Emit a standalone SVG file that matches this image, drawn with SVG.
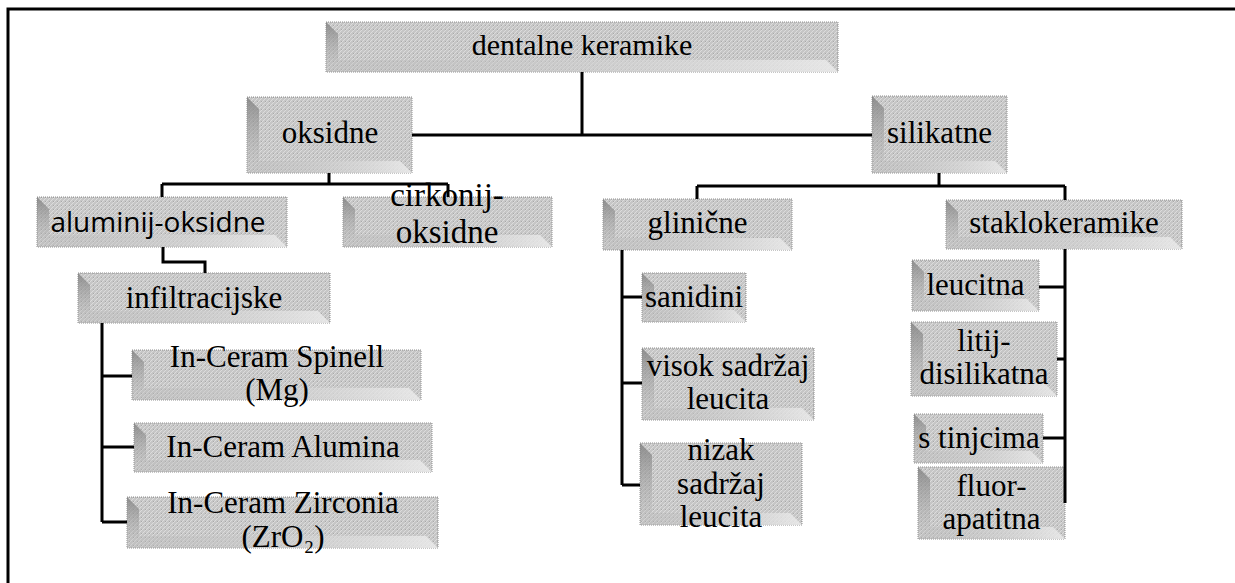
<svg xmlns="http://www.w3.org/2000/svg" width="1235" height="583" viewBox="0 0 1235 583">
<defs>
<pattern id="tex" patternUnits="userSpaceOnUse" width="4" height="4">
<rect width="4" height="4" fill="#c6c6c6"/>
<path d="M0,4 L4,0 M-1,1 L1,-1 M3,5 L5,3" stroke="#dcdcdc" stroke-width="1"/>
<rect x="1" y="1" width="1" height="1" fill="#a9a9a9"/>
</pattern>
<linearGradient id="gl" x1="0" y1="0" x2="0" y2="1">
<stop offset="0" stop-color="#7e7e7e" stop-opacity="0.8"/>
<stop offset="1" stop-color="#b8b8b8" stop-opacity="0.15"/>
</linearGradient>
<linearGradient id="gb" x1="0" y1="0" x2="1" y2="0">
<stop offset="0" stop-color="#b4b4b4" stop-opacity="0.3"/>
<stop offset="1" stop-color="#ececec" stop-opacity="0.85"/>
</linearGradient>
</defs>
<style>
.box{fill:url(#tex);stroke:#8e8e8e;stroke-width:1;stroke-dasharray:1 1}
.bl{fill:url(#gl)}
.bb{fill:url(#gb)}
text{font-family:"Liberation Serif","Times New Roman",serif;font-size:31px;fill:#000;text-anchor:middle}
.sans{font-family:"Open Sans","Liberation Sans",sans-serif;font-size:28px}
.big{font-size:33px}
.conn{fill:none;stroke:#000;stroke-width:3}
.frame{fill:none;stroke:#000;stroke-width:3}
</style>
<rect width="1235" height="583" fill="#fff"/>
<path class="frame" d="M8,583 L8,9 L1235,9"/>

<g id="n-dentalne">
<rect class="box" x="326" y="22" width="512" height="50"/>
<path class="bl" d="M326,22 L338,34 L338,60 L326,72Z"/><path class="bb" d="M326,72 L338,60 L826,60 L838,72Z"/>
<text x="582" y="55" style="font-size:30px">dentalne keramike</text>
</g>
<g id="n-oksidne">
<rect class="box" x="247" y="97" width="165" height="76"/>
<path class="bl" d="M247,97 L259,109 L259,161 L247,173Z"/><path class="bb" d="M247,173 L259,161 L400,161 L412,173Z"/>
<text x="330" y="143">oksidne</text>
</g>
<g id="n-silikatne">
<rect class="box" x="872" y="96" width="135" height="77"/>
<path class="bl" d="M872,96 L884,108 L884,161 L872,173Z"/><path class="bb" d="M872,173 L884,161 L995,161 L1007,173Z"/>
<text x="939.5" y="143">silikatne</text>
</g>
<g id="n-aluminij">
<rect class="box" x="37" y="197" width="250" height="50"/>
<path class="bl" d="M37,197 L49,209 L49,235 L37,247Z"/><path class="bb" d="M37,247 L49,235 L275,235 L287,247Z"/>
<text class="sans" x="158" y="232">aluminij-oksidne</text>
</g>
<g id="n-cirkonij">
<rect class="box" x="343" y="197" width="209" height="50"/>
<path class="bl" d="M343,197 L355,209 L355,235 L343,247Z"/><path class="bb" d="M343,247 L355,235 L540,235 L552,247Z"/>
<text class="big" x="447" y="206">cirkonij-</text>
<text class="big" x="447" y="243">oksidne</text>
</g>
<g id="n-infiltracijske">
<rect class="box" x="78" y="273" width="252" height="50"/>
<path class="bl" d="M78,273 L90,285 L90,311 L78,323Z"/><path class="bb" d="M78,323 L90,311 L318,311 L330,323Z"/>
<text x="204" y="308">infiltracijske</text>
</g>
<g id="n-spinell">
<rect class="box" x="132" y="350" width="289" height="50"/>
<path class="bl" d="M132,350 L144,362 L144,388 L132,400Z"/><path class="bb" d="M132,400 L144,388 L409,388 L421,400Z"/>
<text x="277" y="367">In-Ceram Spinell</text>
<text x="277" y="400">(Mg)</text>
</g>
<g id="n-alumina">
<rect class="box" x="134" y="423" width="298" height="49"/>
<path class="bl" d="M134,423 L146,435 L146,460 L134,472Z"/><path class="bb" d="M134,472 L146,460 L420,460 L432,472Z"/>
<text x="283" y="457">In-Ceram Alumina</text>
</g>
<g id="n-zirconia">
<rect class="box" x="127" y="497" width="311" height="51"/>
<path class="bl" d="M127,497 L139,509 L139,536 L127,548Z"/><path class="bb" d="M127,548 L139,536 L426,536 L438,548Z"/>
<text x="283" y="513">In-Ceram Zirconia</text>
<text x="283" y="547">(ZrO₂)</text>
</g>
<g id="n-glinicne">
<rect class="box" x="603" y="199" width="189" height="51"/>
<path class="bl" d="M603,199 L615,211 L615,238 L603,250Z"/><path class="bb" d="M603,250 L615,238 L780,238 L792,250Z"/>
<text x="697.5" y="233">glinične</text>
</g>
<g id="n-sanidini">
<rect class="box" x="642" y="273" width="104" height="49"/>
<path class="bl" d="M642,273 L654,285 L654,310 L642,322Z"/><path class="bb" d="M642,322 L654,310 L734,310 L746,322Z"/>
<text x="694" y="307">sanidini</text>
</g>
<g id="n-visok">
<rect class="box" x="642" y="348" width="172" height="72"/>
<path class="bl" d="M642,348 L654,360 L654,408 L642,420Z"/><path class="bb" d="M642,420 L654,408 L802,408 L814,420Z"/>
<text x="728" y="376">visok sadržaj</text>
<text x="728" y="409">leucita</text>
</g>
<g id="n-nizak">
<rect class="box" x="640" y="443" width="162" height="82"/>
<path class="bl" d="M640,443 L652,455 L652,513 L640,525Z"/><path class="bb" d="M640,525 L652,513 L790,513 L802,525Z"/>
<text x="721" y="460">nizak</text>
<text x="721" y="494">sadržaj</text>
<text x="721" y="527">leucita</text>
</g>
<g id="n-staklokeramike">
<rect class="box" x="946" y="200" width="236" height="49"/>
<path class="bl" d="M946,200 L958,212 L958,237 L946,249Z"/><path class="bb" d="M946,249 L958,237 L1170,237 L1182,249Z"/>
<text x="1064" y="233">staklokeramike</text>
</g>
<g id="n-leucitna">
<rect class="box" x="912" y="260" width="127" height="51"/>
<path class="bl" d="M912,260 L924,272 L924,299 L912,311Z"/><path class="bb" d="M912,311 L924,299 L1027,299 L1039,311Z"/>
<text x="975.5" y="295">leucitna</text>
</g>
<g id="n-litij">
<rect class="box" x="911" y="322" width="146" height="74"/>
<path class="bl" d="M911,322 L923,334 L923,384 L911,396Z"/><path class="bb" d="M911,396 L923,384 L1045,384 L1057,396Z"/>
<text x="984" y="351">litij-</text>
<text x="984" y="384">disilikatna</text>
</g>
<g id="n-tinjcima">
<rect class="box" x="914" y="414" width="129" height="49"/>
<path class="bl" d="M914,414 L926,426 L926,451 L914,463Z"/><path class="bb" d="M914,463 L926,451 L1031,451 L1043,463Z"/>
<text x="979" y="448">s tinjcima</text>
</g>
<g id="n-fluor">
<rect class="box" x="918" y="467" width="147" height="72"/>
<path class="bl" d="M918,467 L930,479 L930,527 L918,539Z"/><path class="bb" d="M918,539 L930,527 L1053,527 L1065,539Z"/>
<text x="991.5" y="496">fluor-</text>
<text x="991.5" y="529">apatitna</text>
</g>

<g id="connectors" class="conn">
<path d="M582,72 V135 M412,135 H872"/>
<path d="M329,173 V184 M162,184 H448 M162,184 V197 M448,184 V197"/>
<path d="M163,247 V262 H205 V273"/>
<path d="M102,323 V522 M102,376 H132 M102,447 H134 M102,522 H127"/>
<path d="M939,173 V186 M697,186 H1065 M697,186 V199 M1065,186 V200"/>
<path d="M622,250 V485 M622,297 H642 M622,383 H642 M622,485 H640"/>
<path d="M1065,249 V503 M1039,287 H1065 M1057,359 H1065 M1043,438 H1065"/>
</g>
</svg>
